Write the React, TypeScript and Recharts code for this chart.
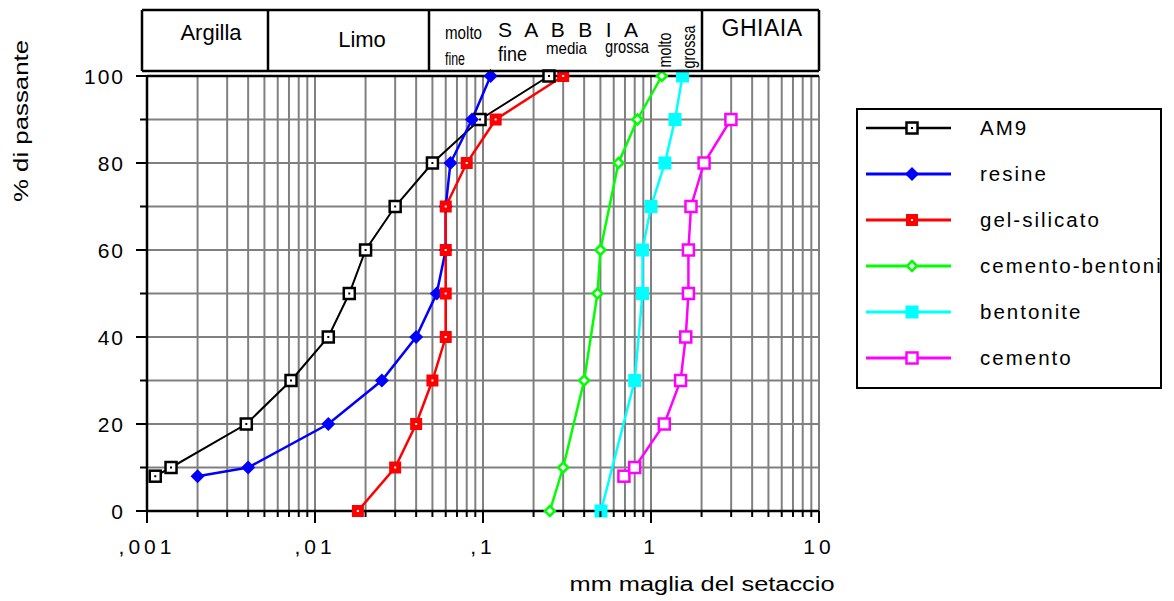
import React from 'react'
import { LineChart, Line, XAxis, YAxis, CartesianGrid, ReferenceLine, Legend, Label } from 'recharts'

const font = '"Liberation Sans", Arial, Helvetica, sans-serif'

// diametro (mm) e % passante per ogni campione
const am9Diam = [0.00112, 0.00139, 0.0039, 0.0072, 0.012, 0.016, 0.02, 0.03, 0.05, 0.096, 0.247]
const am9Pass = [8, 10, 20, 30, 40, 50, 60, 70, 80, 90, 100]

const resineDiam = [0.002, 0.004, 0.012, 0.025, 0.04, 0.053, 0.06, 0.06, 0.064, 0.086, 0.111]
const resinePass = [8, 10, 20, 30, 40, 50, 60, 70, 80, 90, 100]

const gelDiam = [0.018, 0.03, 0.04, 0.05, 0.06, 0.06, 0.06, 0.06, 0.08, 0.119, 0.3]
const gelPass = [0, 10, 20, 30, 40, 50, 60, 70, 80, 90, 100]

const cemBentDiam = [0.25, 0.3, 0.4, 0.48, 0.5, 0.64, 0.83, 1.16]
const cemBentPass = [0, 10, 30, 50, 60, 80, 90, 100]

const bentDiam = [0.504, 0.8, 0.89, 0.89, 1.0, 1.21, 1.39, 1.54]
const bentPass = [0, 30, 50, 60, 70, 80, 90, 100]

const cemDiam = [0.69, 0.8, 1.2, 1.5, 1.61, 1.67, 1.67, 1.73, 2.07, 2.99]
const cemPass = [8, 10, 20, 30, 40, 50, 60, 70, 80, 90]

const xMajorTicks = [0.001, 0.01, 0.1, 1, 10]
const xTickLabels = [',001', ',01', ',1', '1', '10']
const xMantissas = [1, 2, 3, 4, 5, 6, 7, 8, 9]
const yTicks = [0, 10, 20, 30, 40, 50, 60, 70, 80, 90, 100]
const yLabelled = [0, 20, 40, 60, 80, 100]

const xTicks = [
  ...xMajorTicks.slice(0, -1).flatMap((dec) => xMantissas.map((m) => +(dec * m).toPrecision(3))),
  xMajorTicks[xMajorTicks.length - 1],
]

const zip = (d: number[], p: number[]) => d.map((v, i) => ({ d: v, p: p[i] }))

type Kind = 'squareDot' | 'diamond' | 'squareFillDot' | 'diamondOpen' | 'squareFill' | 'squareOpen'

const series: { name: string; color: string; width: number; kind: Kind; data: { d: number; p: number }[] }[] = [
  { name: 'AM9', color: '#000000', width: 2, kind: 'squareDot', data: zip(am9Diam, am9Pass) },
  { name: 'resine', color: '#0000ff', width: 2.5, kind: 'diamond', data: zip(resineDiam, resinePass) },
  { name: 'gel-silicato', color: '#ff0000', width: 2.5, kind: 'squareFillDot', data: zip(gelDiam, gelPass) },
  { name: 'cemento-bentonite', color: '#00ff00', width: 2.5, kind: 'diamondOpen', data: zip(cemBentDiam, cemBentPass) },
  { name: 'bentonite', color: '#00ffff', width: 2.5, kind: 'squareFill', data: zip(bentDiam, bentPass) },
  { name: 'cemento', color: '#ff00ff', width: 2.5, kind: 'squareOpen', data: zip(cemDiam, cemPass) },
]

function Marker({ kind, color, cx, cy }: { kind: Kind; color: string; cx: number; cy: number }) {
  switch (kind) {
    case 'squareDot':
      return (
        <g>
          <rect x={cx - 5.5} y={cy - 5.5} width={11} height={11} fill="#fff" stroke={color} strokeWidth={2.5} />
          <rect x={cx - 1} y={cy - 1} width={2} height={2} fill={color} />
        </g>
      )
    case 'diamond':
      return <polygon points={`${cx},${cy - 7} ${cx + 7},${cy} ${cx},${cy + 7} ${cx - 7},${cy}`} fill={color} />
    case 'squareFillDot':
      return (
        <g>
          <rect x={cx - 6} y={cy - 6} width={12} height={12} fill={color} />
          <rect x={cx - 1} y={cy - 1} width={2} height={2} fill="#fff" />
        </g>
      )
    case 'diamondOpen':
      return (
        <polygon
          points={`${cx},${cy - 5} ${cx + 5},${cy} ${cx},${cy + 5} ${cx - 5},${cy}`}
          fill="#fff"
          stroke={color}
          strokeWidth={2.5}
        />
      )
    case 'squareFill':
      return <rect x={cx - 6.5} y={cy - 6.5} width={13} height={13} fill={color} />
    case 'squareOpen':
      return <rect x={cx - 5.5} y={cy - 5.5} width={11} height={11} fill="#fff" stroke={color} strokeWidth={2.5} />
  }
  return null
}

function renderXTick(props: any) {
  const { x, y, payload } = props
  const idx = xMajorTicks.indexOf(payload.value)
  const major = idx >= 0
  return (
    <g>
      <line x1={x} x2={x} y1={y} y2={y + (major ? 12 : 6)} stroke="#000" strokeWidth={2} />
      {major && (
        <text x={x} y={y + 43} textAnchor="middle" fontSize={21} letterSpacing={4} fontFamily={font} fill="#000">
          {xTickLabels[idx]}
        </text>
      )}
    </g>
  )
}

function renderYTick(props: any) {
  const { x, y, payload } = props
  const major = yLabelled.includes(payload.value)
  return (
    <g>
      <line x1={x - (major ? 11 : 7)} x2={x} y1={y} y2={y} stroke="#000" strokeWidth={2} />
      {major && (
        <text x={x - 22} y={y + 7.5} textAnchor="end" fontSize={21} letterSpacing={2} fontFamily={font} fill="#000">
          {payload.value}
        </text>
      )}
    </g>
  )
}

const XTitle = () => (
  <text x={694} y={583} textAnchor="middle" fontSize={20} textLength={265} lengthAdjust="spacingAndGlyphs" fontFamily={font} fill="#000">
    mm maglia del setaccio
  </text>
)

const YTitle = () => (
  <text
    x={20}
    y={113}
    transform="rotate(-90 20 113)"
    textAnchor="middle"
    fontSize={21}
    textLength={162}
    lengthAdjust="spacingAndGlyphs"
    fontFamily={font}
    fill="#000"
  >
    % di passante
  </text>
)

const renderLegend = () => (
  <div
    style={{
      width: 306,
      height: 281,
      boxSizing: 'border-box',
      border: '2.5px solid #000',
      background: '#fff',
      overflow: 'hidden',
      position: 'relative',
      fontFamily: font,
    }}
  >
    {series.map((s, i) => (
      <div key={s.name} style={{ position: 'absolute', left: 0, top: 18 + i * 46 - 12, width: 500, height: 24 }}>
        <svg width={110} height={24} style={{ position: 'absolute', left: 0, top: 0 }}>
          <line x1={8} x2={93} y1={12} y2={12} stroke={s.color} strokeWidth={s.width + 0.5} />
          <Marker kind={s.kind} color={s.color} cx={54} cy={12} />
        </svg>
        <span
          style={{
            position: 'absolute',
            left: 122,
            top: 0,
            lineHeight: '24px',
            fontSize: 20.5,
            letterSpacing: 2,
            whiteSpace: 'nowrap',
            color: '#000',
          }}
        >
          {s.name}
        </span>
      </div>
    ))}
  </div>
)

const narrow = { fontFamily: font, fill: '#000', lengthAdjust: 'spacingAndGlyphs' as const }

function Header() {
  const top = 2
  const bottom = 63
  const cols = [134, 260, 421, 694, 811]
  return (
    <svg width={1166} height={593} style={{ position: 'absolute', left: 0, top: 0, pointerEvents: 'none' }}>
      <line x1={cols[0]} x2={cols[4]} y1={top} y2={top} stroke="#000" strokeWidth={2.5} />
      <line x1={cols[0]} x2={cols[4]} y1={bottom} y2={bottom} stroke="#000" strokeWidth={2.5} />
      {cols.map((c) => (
        <line key={c} x1={c} x2={c} y1={top} y2={bottom} stroke="#000" strokeWidth={2.5} />
      ))}
      <text x={203} y={32} textAnchor="middle" fontSize={22} fontFamily={font} fill="#000">
        Argilla
      </text>
      <text x={354} y={39} textAnchor="middle" fontSize={22} fontFamily={font} fill="#000">
        Limo
      </text>
      <text x={437} y={31} fontSize={18} textLength={37} {...narrow}>
        molto
      </text>
      <text x={437} y={57} fontSize={18} textLength={20} {...narrow}>
        fine
      </text>
      <text x={490} y={29} fontSize={21} textLength={140} lengthAdjust="spacing" fontFamily={font} fill="#000">
        S A B B I A
      </text>
      <text x={490} y={53} fontSize={21} textLength={29} {...narrow}>
        fine
      </text>
      <text x={538} y={46} fontSize={17} textLength={41} {...narrow}>
        media
      </text>
      <text x={597} y={45} fontSize={19} textLength={44} {...narrow}>
        grossa
      </text>
      <text x={663} y={42} transform="rotate(-90 663 42)" textAnchor="middle" fontSize={18} textLength={35} {...narrow}>
        molto
      </text>
      <text x={687} y={39} transform="rotate(-90 687 39)" textAnchor="middle" fontSize={19} textLength={43} {...narrow}>
        grossa
      </text>
      <text x={754} y={28} textAnchor="middle" fontSize={23} letterSpacing={0.5} fontFamily={font} fill="#000">
        GHIAIA
      </text>
    </svg>
  )
}

export default function App() {
  return (
    <div style={{ position: 'relative', width: 1166, height: 593, fontFamily: font }}>
      <LineChart width={1166} height={593} margin={{ top: 68, right: 355, bottom: 30, left: 79 }}>
        <CartesianGrid stroke="#808080" strokeWidth={2} />
        <XAxis
          type="number"
          dataKey="d"
          scale="log"
          domain={[0.001, 10]}
          allowDataOverflow
          ticks={xTicks}
          interval={0}
          height={60}
          axisLine={{ stroke: '#000', strokeWidth: 2.5 }}
          tickLine={false}
          tickSize={0}
          tickMargin={0}
          tick={renderXTick}
        >
          <Label content={() => <XTitle />} />
        </XAxis>
        <YAxis
          type="number"
          domain={[0, 100]}
          ticks={yTicks}
          interval={0}
          width={60}
          axisLine={{ stroke: '#000', strokeWidth: 2.5 }}
          tickLine={false}
          tickSize={0}
          tickMargin={0}
          tick={renderYTick}
        >
          <Label content={() => <YTitle />} />
        </YAxis>
        <ReferenceLine y={100} stroke="#000" strokeWidth={2.5} />
        {series.map((s) => (
          <Line
            key={s.name}
            name={s.name}
            data={s.data}
            dataKey="p"
            stroke={s.color}
            strokeWidth={s.width}
            isAnimationActive={false}
            activeDot={false}
            dot={(props: any) => (
              <Marker key={`${s.name}-${props.index}`} kind={s.kind} color={s.color} cx={props.cx} cy={props.cy} />
            )}
          />
        ))}
        <Legend
          layout="vertical"
          align="center"
          verticalAlign="middle"
          content={renderLegend}
          wrapperStyle={{ left: 848, top: 100, width: 306, height: 281 }}
        />
      </LineChart>
      <Header />
    </div>
  )
}
